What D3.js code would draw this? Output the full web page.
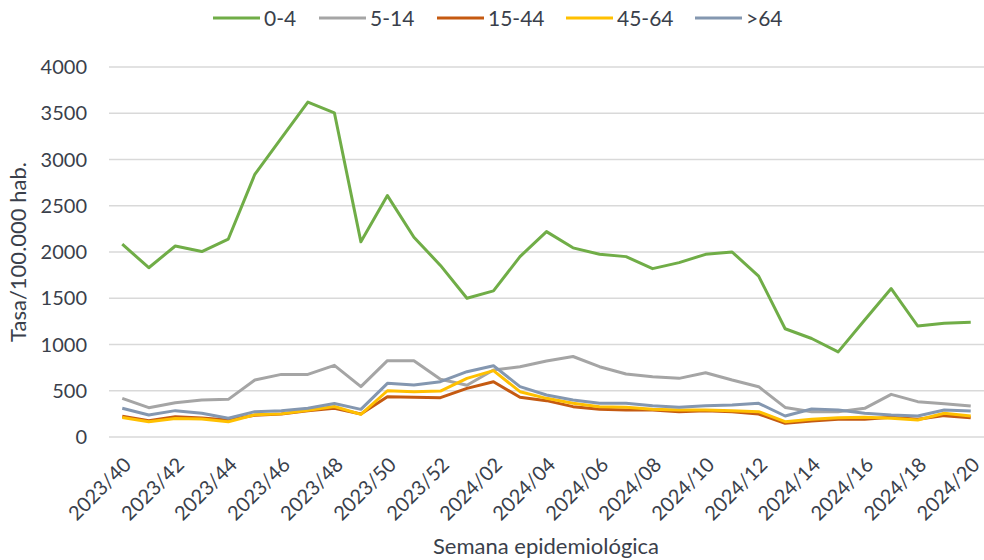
<!DOCTYPE html>
<html><head><meta charset="utf-8">
<script src="https://cdn.jsdelivr.net/npm/d3@7"></script>
<style>
body{margin:0;background:#fff;}
text{font-family:Lato,"Open Sans",sans-serif;fill:#3a3f4b;}
</style></head>
<body><svg id="c" width="984" height="560"></svg>
<script>
const weeks = ["2023/40","2023/41","2023/42","2023/43","2023/44","2023/45","2023/46","2023/47","2023/48","2023/49","2023/50","2023/51","2023/52",
"2024/01","2024/02","2024/03","2024/04","2024/05","2024/06","2024/07","2024/08","2024/09","2024/10","2024/11","2024/12","2024/13","2024/14","2024/15","2024/16","2024/17","2024/18","2024/19","2024/20"];
const tickLabels = ["2023/40","2023/42","2023/44","2023/46","2023/48","2023/50","2023/52","2024/02","2024/04","2024/06","2024/08","2024/10","2024/12","2024/14","2024/16","2024/18","2024/20"];
const yTicks = [0,500,1000,1500,2000,2500,3000,3500,4000];
const age0_4   = [2085,1830,2065,2005,2140,2840,3230,3620,3505,2110,2610,2160,1855,1500,1580,1950,2220,2045,1975,1950,1820,1885,1975,2000,1740,1170,1065,920,1265,1605,1200,1230,1240];
const age5_14  = [418,317,371,400,407,616,677,677,775,544,825,825,625,560,724,760,822,870,760,681,652,634,695,616,544,320,274,274,310,461,382,360,335];
const age15_44 = [225,175,220,205,185,235,249,285,310,249,436,429,425,526,598,429,393,328,299,292,292,274,285,274,249,148,173,191,191,213,191,231,209];
const age45_64 = [210,165,200,195,165,240,250,290,330,245,500,490,497,634,717,490,418,364,328,321,299,292,292,285,274,166,191,209,213,202,184,256,227];
const age64p   = [310,238,285,256,202,274,285,310,363,299,580,562,598,706,771,544,454,400,364,364,339,321,339,346,364,227,303,292,256,238,227,292,281];
const seriesNames = ["0-4","5-14","15-44","45-64",">64"];
const seriesColors = ["#70AD47","#A5A5A5","#C55A11","#FFC000","#8497B0"];
const seriesData = [age0_4, age5_14, age15_44, age45_64, age64p];

const svg = d3.select("#c");
const x = d3.scalePoint().domain(weeks).range([109,984]).padding(0.5);
const y = d3.scaleLinear().domain([0,4000]).range([437,67]);

// gridlines
svg.append("g").selectAll("line").data(yTicks).join("line")
  .attr("x1",109).attr("x2",984)
  .attr("y1",d=>y(d)).attr("y2",d=>y(d))
  .attr("stroke","#d9d9d9").attr("stroke-width",1.5);

// y tick labels
svg.append("g").selectAll("text").data(yTicks).join("text")
  .attr("x",87).attr("y",d=>y(d)).attr("dy","0.36em")
  .attr("text-anchor","end").attr("font-size",20).text(d=>d);

// x tick labels
svg.append("g").selectAll("text").data(tickLabels).join("text")
  .attr("transform",d=>`translate(${x(d)+5},${461}) rotate(-45)`)
  .attr("text-anchor","end").attr("dy","0.36em").attr("font-size",20).text(d=>d);

// lines
const line = d3.line().x((d,i)=>x(weeks[i])).y(d=>y(d));
seriesData.forEach((s,k)=>{
  svg.append("path").datum(s).attr("d",line).attr("fill","none")
    .attr("stroke",seriesColors[k]).attr("stroke-width",3).attr("stroke-linejoin","round");
});

// legend
const legX = [213,319,437,566,695];
const lg = svg.append("g");
seriesNames.forEach((n,k)=>{
  lg.append("line").attr("x1",legX[k]).attr("x2",legX[k]+47).attr("y1",18).attr("y2",18)
    .attr("stroke",seriesColors[k]).attr("stroke-width",3);
  lg.append("text").attr("x",legX[k]+51).attr("y",18).attr("dy","0.36em").attr("font-size",21).text(n);
});

// axis titles
svg.append("text").attr("x",546).attr("y",554).attr("text-anchor","middle").attr("font-size",22).text("Semana epidemiológica");
svg.append("text").attr("transform","translate(26,252) rotate(-90)").attr("text-anchor","middle").attr("font-size",22).text("Tasa/100.000 hab.");
</script></body></html>
